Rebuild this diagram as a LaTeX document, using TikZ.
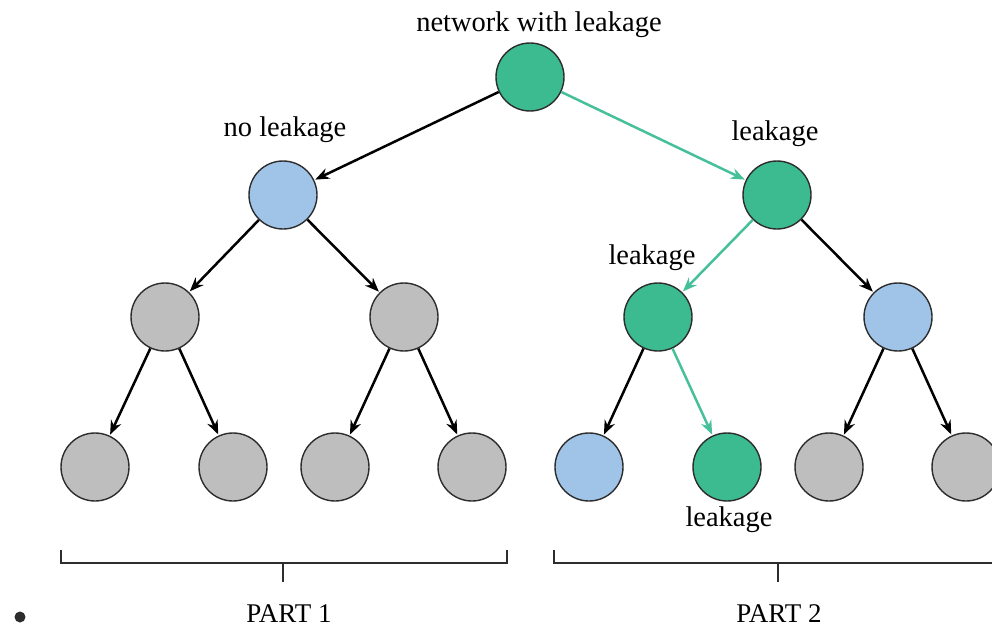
\documentclass[tikz,border=0pt]{standalone}
\usepackage{fontspec}
\setmainfont{Liberation Serif}
\usetikzlibrary{arrows.meta}
\definecolor{gnode}{RGB}{59,187,143}
\definecolor{bnode}{RGB}{160,196,232}
\definecolor{ynode}{RGB}{190,190,190}
\definecolor{garrow}{RGB}{70,192,154}
\definecolor{outline}{RGB}{45,45,45}
\tikzset{
  nd/.style={circle, draw=outline, line width=1.4pt, minimum size=68pt, inner sep=0pt},
  gn/.style={nd, fill=gnode},
  bn/.style={nd, fill=bnode},
  yn/.style={nd, fill=ynode},
  edge/.style={-{Stealth[length=14pt,width=11pt]}, line width=2.5pt, black, shorten >=1pt},
  gedge/.style={edge, garrow},
  lbl/.style={font=\fontsize{28.5}{34}\selectfont, inner sep=0pt, anchor=base},
  plbl/.style={font=\fontsize{27}{32}\selectfont, inner sep=0pt, anchor=base},
  brk/.style={line width=1.4pt, draw=outline}
}
\begin{document}
\begin{tikzpicture}[x=1pt,y=-1pt]
\useasboundingbox (0,0) rectangle (992,626);
\clip (0,0) rectangle (992,626);
% nodes
\node[gn] (r) at (530,77) {};
\node[bn] (a) at (283,195) {};
\node[gn] (b) at (777,195) {};
\node[yn] (a1) at (165,317) {};
\node[yn] (a2) at (404,317) {};
\node[gn] (b1) at (658,317) {};
\node[bn] (b2) at (898,317) {};
\node[yn] (a11) at (95,467) {};
\node[yn] (a12) at (233,467) {};
\node[yn] (a21) at (335,467) {};
\node[yn] (a22) at (472,467) {};
\node[bn] (b11) at (589,467) {};
\node[gn] (b12) at (727,467) {};
\node[yn] (b21) at (829,467) {};
\node[yn] (b22) at (966,467) {};
% edges
\draw[edge] (r) -- (a);
\draw[gedge] (r) -- (b);
\draw[edge] (a) -- (a1);
\draw[edge] (a) -- (a2);
\draw[gedge] (b) -- (b1);
\draw[edge] (b) -- (b2);
\draw[edge] (a1) -- (a11);
\draw[edge] (a1) -- (a12);
\draw[edge] (a2) -- (a21);
\draw[edge] (a2) -- (a22);
\draw[edge] (b1) -- (b11);
\draw[gedge] (b1) -- (b12);
\draw[edge] (b2) -- (b21);
\draw[edge] (b2) -- (b22);
% labels
\node[lbl] (t0) at (539,32) {network with leakage};
\node[lbl] (t1) at (285,136) {no leakage};
\node[lbl] (t2) at (775,140) {leakage};
\node[lbl] (t3) at (652,264) {leakage};
\node[lbl] (t4) at (729,526) {leakage};
% brackets
\coordinate (l1) at (61,550);
\coordinate (l2) at (61,563);
\coordinate (l3) at (507,563);
\coordinate (l4) at (507,550);
\coordinate (lm1) at (283,563);
\coordinate (lm2) at (283,582);
\draw[brk] (l1) -- (l2) -- (l3) -- (l4);
\draw[brk] (lm1) -- (lm2);
\coordinate (r1) at (554,550);
\coordinate (r2) at (554,563);
\coordinate (r3) at (995,563);
\coordinate (rm1) at (778,563);
\coordinate (rm2) at (778,582);
\draw[brk] (r1) -- (r2) -- (r3);
\draw[brk] (rm1) -- (rm2);
\node[plbl] (p1) at (289,622) {PART 1};
\node[plbl] (p2) at (779,622) {PART 2};
\fill[outline] (20,617) circle (5.5pt);
\end{tikzpicture}
\end{document}
